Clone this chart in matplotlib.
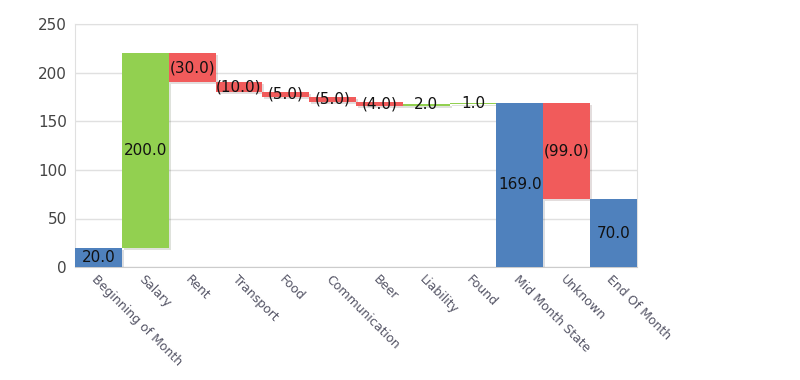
"Waterfall chart of a monthly budget"

import matplotlib
matplotlib.use("Agg")
import matplotlib.pyplot as plt
import matplotlib.patheffects as pe
import numpy as np

# data
categories = ["Beginning of Month", "Salary", "Rent", "Transport", "Food",
              "Communication", "Beer", "Liability", "Found", "Mid Month State",
              "Unknown", "End Of Month"]
changes = [20, 200, -30, -10, -5, -5, -4, 2, 1, 169, -99, 70]
is_total = [True, False, False, False, False, False, False, False, False,
            True, False, True]

blue = "#4f81bd"
green = "#92d050"
red = "#f15b5b"

# work out bottoms of the floating bars
bottoms = []
heights = []
colors = []
running = 0
for val, tot in zip(changes, is_total):
    if tot:
        bottoms.append(0)
        heights.append(val)
        colors.append(blue)
        running = val
    else:
        if val >= 0:
            bottoms.append(running)
            colors.append(green)
        else:
            bottoms.append(running + val)
            colors.append(red)
        heights.append(abs(val))
        running += val

fig = plt.figure(figsize=(8, 3.8), dpi=100)
ax = fig.add_axes([0.094, 0.297, 0.702, 0.64])

x = np.arange(len(categories))
bars = ax.bar(x, heights, bottom=bottoms, width=1.0, color=colors,
              zorder=3, linewidth=0)
for b in bars:
    b.set_path_effects([pe.SimplePatchShadow(offset=(1.5, -1.5), alpha=0.15),
                        pe.Normal()])

# labels in the middle of each bar
for xi, val, bot, h in zip(x, changes, bottoms, heights):
    txt = f"({abs(val):.1f})" if val < 0 else f"{val:.1f}"
    ax.text(xi, bot + h / 2, txt, ha="center", va="center",
            fontsize=11, color="#111111", zorder=4)

ax.set_xlim(-0.5, len(categories) - 0.5)
ax.set_ylim(0, 250)
ax.set_yticks([0, 50, 100, 150, 200, 250])
ax.grid(axis="y", color="#e0e0e0", linewidth=1, zorder=0)
ax.tick_params(axis="y", length=0, labelsize=11, labelcolor="#444444", pad=6)
ax.tick_params(axis="x", length=0, pad=4)
ax.set_xticks(x)
ax.set_xticklabels(categories, rotation=-45, ha="left",
                   rotation_mode="anchor", fontsize=9, color="#555566")
for s in ax.spines.values():
    s.set_color("#e0e0e0")
ax.spines["bottom"].set_color("#cccccc")

fig.savefig("out.png", dpi=100)
